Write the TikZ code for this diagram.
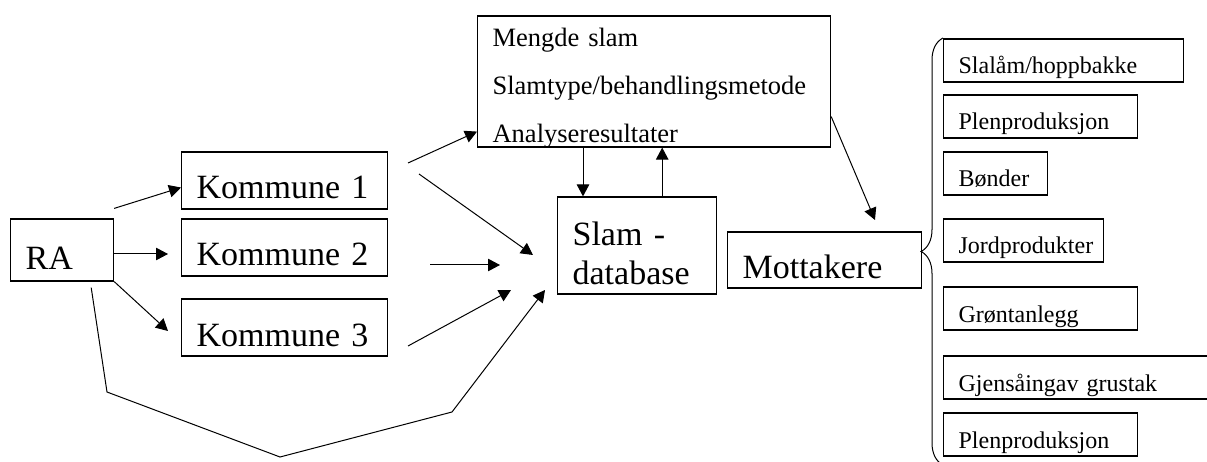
\documentclass[tikz,border=0pt]{standalone}
\usepackage{fontspec}
\setmainfont{Liberation Serif}
\usetikzlibrary{arrows.meta,calc,decorations.pathreplacing}
\hyphenpenalty=10000

\begin{document}
\begin{tikzpicture}[x=1pt,y=-1pt]
	\tikzset{box/.style={draw,line width=1.2pt,anchor=base west,align=left,inner xsep=15pt,inner ysep=0pt},
		big/.style={box,font=\fontsize{34}{39}\selectfont,text height=47pt,text depth=10pt},
		mottbox/.style={box,font=\fontsize{24}{28}\selectfont,text height=35pt,text depth=8pt},
		arr/.style={-{Triangle[length=12pt,width=12.5pt]},line width=1pt}}
	\useasboundingbox (0,0) rectangle (1207,462);
	\clip (0,0) rectangle (1207,462);

	\node[big,text width=73pt,text height=51pt,text depth=11pt](RA) at (10,270) {RA};
	\node[big,text width=176pt](K1) at (181,199) {Kommune 1};
	\node[big,text width=176pt](K2) at (181,266) {Kommune 2};
	\node[big,text width=176pt](K3) at (181,346) {Kommune 3};
	\node[box,font=\fontsize{26.5}{48}\selectfont,text width=323pt,text height=31pt,text depth=100pt](data) at (477,47)
		{Mengde slam\\Slamtype/behandlingsmetode\\Analyseresultater};
	\node[big,text width=129pt,text height=49pt,text depth=48pt](db) at (557,246) {Slam -\\database};
	\node[big,text width=164pt,text depth=9pt](mott) at (727,279) {Mottakere};

	\node[mottbox,text width=210pt](m1) at (943,74) {Slalåm/hoppbakke};
	\node[mottbox,text width=164pt](m2) at (943,130) {Plenproduksjon};
	\node[mottbox,text width=74pt](m3) at (943,187) {Bønder};
	\node[mottbox,text width=130pt](m4) at (943,254) {Jordprodukter};
	\node[mottbox,text width=164pt](m5) at (943,322) {Grøntanlegg};
	\node[mottbox,text width=257pt](m6) at (943,391) {Gjensåingav grustak};
	\node[mottbox,text width=164pt](m7) at (943,448) {Plenproduksjon};

	\coordinate (ra2) at (168,254);
	\coordinate (ra3) at (168,331);
	\coordinate (k1out) at (408,163);
	\coordinate (k1db) at (419,174);
	\coordinate (k2out) at (430,265);
	\coordinate (k3out) at (408,346);
	\coordinate (db1) at (533,255);
	\coordinate (db2) at (500,265);
	\coordinate (db3) at (511,290);
	\coordinate (db4) at (545,290);
	\coordinate (mottin) at (875,220);
	\coordinate (dbin) at ($(db.north west)+(26,0)$);
	\coordinate (dbout) at ($(db.north east)+(-55,0)$);

	\draw[arr] ($(RA.north east)+(0,-10)$) -- ($(K1.west)+(0,7)$);
	\draw[arr] ($(RA.east)+(0,4)$) -- (ra2);
	\draw[arr] (RA.south east) -- (ra3);
	\draw[arr] ($(RA.south east)+(-23,6)$) -- (107,392) -- (280,457) -- (452,412) -- (db4);

	\draw[arr] (k1out) -- ($(data.south west)+(0,-16)$);
	\draw[arr] (k1db) -- (db1);
	\draw[arr] (k2out) -- (db2);
	\draw[arr] (k3out) -- (db3);

	\draw[arr] (data.south -| dbin) -- (dbin);
	\draw[arr] (dbout) -- (data.south -| dbout);
	\draw[arr] ($(data.south east)+(0,-31)$) -- (mottin);

	\draw[line width=1pt,decorate,decoration={brace,amplitude=22pt}] (943,465) -- (943,38);
\end{tikzpicture}
\end{document}
